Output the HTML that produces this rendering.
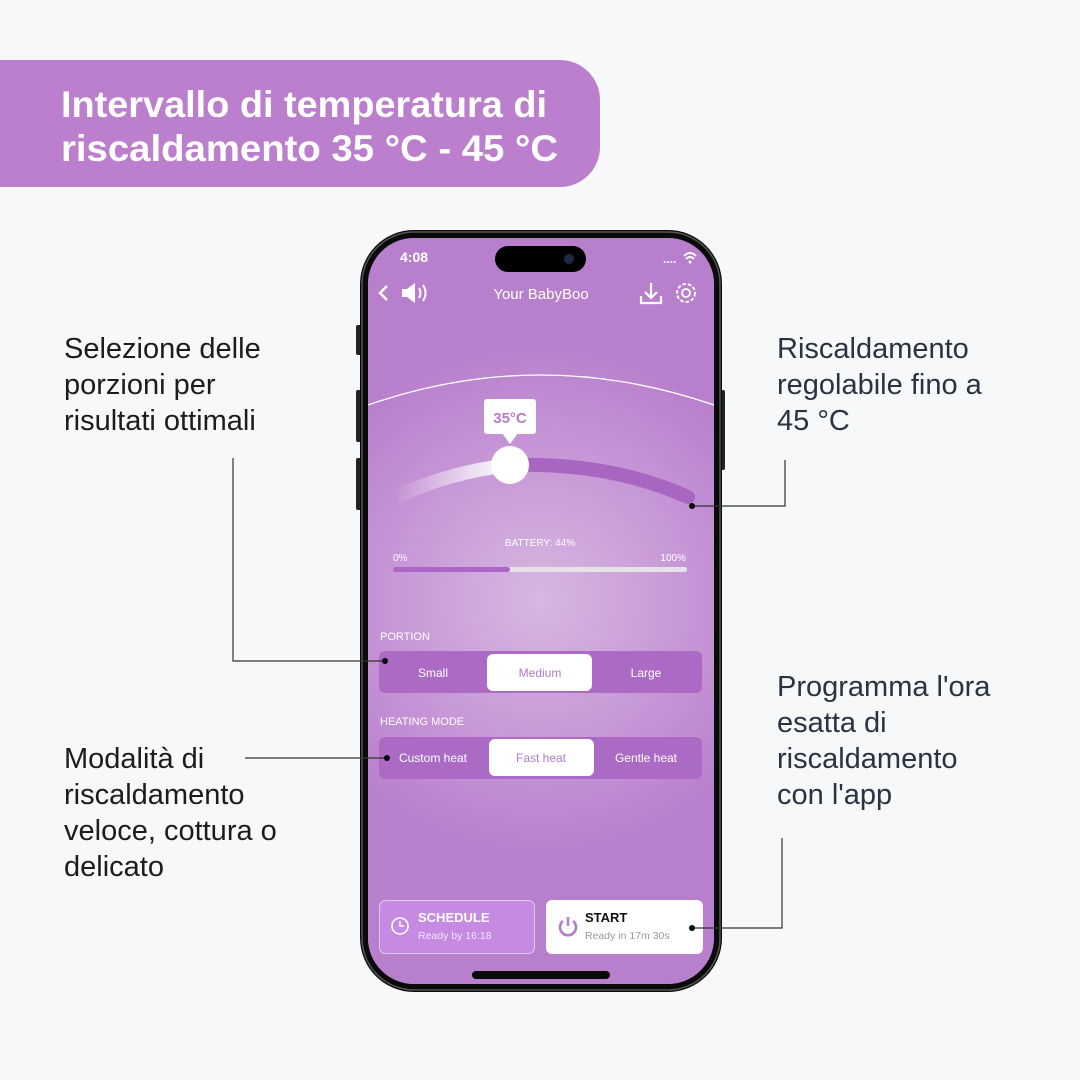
<!DOCTYPE html>
<html><head><meta charset="utf-8"><style>
html,body{margin:0;padding:0;background:#f7f8fa;}
svg{display:block;font-family:"Liberation Sans",sans-serif;}
svg text{font-family:"Liberation Sans",sans-serif;}
</style></head><body>
<svg width="1080" height="1080" viewBox="0 0 1080 1080" xmlns="http://www.w3.org/2000/svg" font-family="Liberation Sans, sans-serif">
<defs>
<radialGradient id="glow" cx="540" cy="600" r="260" gradientUnits="userSpaceOnUse">
<stop offset="0" stop-color="#d6b7e2"/><stop offset="0.6" stop-color="#c695d6"/><stop offset="1" stop-color="#b87fcc"/>
</radialGradient>
<linearGradient id="arcg" x1="395" y1="0" x2="510" y2="0" gradientUnits="userSpaceOnUse">
<stop offset="0" stop-color="#fff" stop-opacity="0"/><stop offset="1" stop-color="#fff" stop-opacity="1"/>
</linearGradient>
<clipPath id="scr"><rect x="368" y="238" width="346" height="746" rx="46"/></clipPath>
</defs>
<rect width="1080" height="1080" fill="#f7f8fa"/>
<path d="M0 60 H560 A40 40 0 0 1 600 100 V147 A40 40 0 0 1 560 187 H0 Z" fill="#bb7fcd"/>
<text x="61" y="117" font-size="37" font-weight="bold" fill="#fff" textLength="486" lengthAdjust="spacingAndGlyphs">Intervallo di temperatura di</text>
<text x="61" y="161" font-size="37" font-weight="bold" fill="#fff" textLength="497" lengthAdjust="spacingAndGlyphs">riscaldamento 35 °C - 45 °C</text>
<rect x="356" y="325" width="6" height="30" rx="2" fill="#222"/>
<rect x="356" y="390" width="6" height="52" rx="2" fill="#222"/>
<rect x="356" y="458" width="6" height="52" rx="2" fill="#222"/>
<rect x="719" y="390" width="6" height="80" rx="2" fill="#222"/>
<rect x="360" y="230" width="362" height="762" rx="54" fill="#0a0a0a"/>
<rect x="362" y="232" width="358" height="758" rx="52" fill="none" stroke="#555" stroke-width="1.5"/>
<g clip-path="url(#scr)">
<rect x="368" y="238" width="346" height="746" fill="#b87fcc"/>
<rect x="368" y="238" width="346" height="746" fill="url(#glow)"/>
<path d="M368 405 Q540 345 714 405" fill="none" stroke="#fff" stroke-width="1.3"/>
</g>
<rect x="495" y="246" width="91" height="26" rx="13" fill="#000"/>
<circle cx="569" cy="259" r="5" fill="#1d2a44"/>
<text x="400" y="262" font-size="14" font-weight="bold" fill="#fff">4:08</text>
<text x="663" y="263" font-size="12" font-weight="bold" fill="#fff">....</text>
<path d="M684 256 Q690 250 696 256 M686 259 Q690 255 694 259" stroke="#fff" stroke-width="1.8" fill="none"/><circle cx="690" cy="262" r="1.5" fill="#fff"/>
<path d="M387 286 L380 293 L387 300" stroke="#fff" stroke-width="2.5" fill="none"/>
<path d="M402 289 H407 L415 283 V303 L407 297 H402 Z" fill="#fff"/>
<path d="M419 288 Q422 293 419 298 M423 285 Q428 293 423 301" stroke="#fff" stroke-width="2" fill="none"/>
<text x="541" y="299" font-size="15" fill="#fff" text-anchor="middle">Your BabyBoo</text>
<path d="M651 283 V298 M645 292 L651 298 L657 292 M641 296 V303 H661 V296" stroke="#fff" stroke-width="2.2" fill="none"/>
<circle cx="686" cy="293" r="4" stroke="#fff" stroke-width="1.8" fill="none"/>
<circle cx="686" cy="293" r="9" stroke="#fff" stroke-width="2" stroke-dasharray="3.5 2" fill="none"/>
<path d="M398 496 Q450 472 510 465" stroke="url(#arcg)" stroke-width="14" fill="none" stroke-linecap="round"/>
<path d="M510 465 Q610 462 688 497" stroke="#a866c3" stroke-width="14" fill="none" stroke-linecap="round"/>
<circle cx="510" cy="465" r="19" fill="#fff"/>
<rect x="484" y="399" width="52" height="35" rx="3" fill="#fff"/>
<path d="M502 433 L510 444 L518 433 Z" fill="#fff"/>
<text x="510" y="423" font-size="15" font-weight="bold" fill="#b57cc8" text-anchor="middle">35°C</text>
<text x="540" y="546" font-size="10" fill="#fff" text-anchor="middle">BATTERY: 44%</text>
<text x="393" y="561" font-size="10" fill="#fff">0%</text>
<text x="686" y="561" font-size="10" fill="#fff" text-anchor="end">100%</text>
<rect x="393" y="567" width="294" height="5" rx="2.5" fill="#e6e2e8"/>
<rect x="393" y="567" width="117" height="5" rx="2.5" fill="#aa68c4"/>
<text x="380" y="640" font-size="11" fill="#fff">PORTION</text>
<rect x="379" y="651" width="323" height="42" rx="6" fill="#ab6ac4"/>
<rect x="487" y="654" width="105" height="37" rx="6" fill="#fff"/>
<text x="433" y="677" font-size="12" fill="#fff" text-anchor="middle">Small</text>
<text x="540" y="677" font-size="12" fill="#b27ac7" text-anchor="middle">Medium</text>
<text x="646" y="677" font-size="12" fill="#fff" text-anchor="middle">Large</text>
<text x="380" y="725" font-size="11" fill="#fff">HEATING MODE</text>
<rect x="379" y="737" width="323" height="42" rx="6" fill="#ab6ac4"/>
<rect x="489" y="739" width="105" height="37" rx="6" fill="#fff"/>
<text x="433" y="762" font-size="12" fill="#fff" text-anchor="middle">Custom heat</text>
<text x="541" y="762" font-size="12" fill="#b27ac7" text-anchor="middle">Fast heat</text>
<text x="646" y="762" font-size="12" fill="#fff" text-anchor="middle">Gentle heat</text>
<rect x="379.5" y="900.5" width="155" height="53" rx="6" fill="#c78ae2" stroke="#e3c7ee"/>
<circle cx="400" cy="926" r="8" stroke="#fff" stroke-width="1.6" fill="none"/>
<path d="M400 921 V926 H404" stroke="#fff" stroke-width="1.5" fill="none"/>
<text x="418" y="922" font-size="13" font-weight="bold" fill="#fff">SCHEDULE</text>
<text x="418" y="939" font-size="10.5" fill="#f3e6f8">Ready by 16:18</text>
<rect x="546" y="900" width="157" height="54" rx="6" fill="#fff"/>
<path d="M563 921 A8 8 0 1 0 573 921" stroke="#b57cc8" stroke-width="2.6" fill="none"/>
<path d="M568 917 V926" stroke="#b57cc8" stroke-width="2.6"/>
<text x="585" y="922" font-size="13" font-weight="bold" fill="#111">START</text>
<text x="585" y="939" font-size="10.5" fill="#999">Ready in 17m 30s</text>
<rect x="472" y="971" width="138" height="8" rx="4" fill="#0a0a0a"/>
<g stroke="#333" stroke-width="1.2" fill="none">
<path d="M233 458 V661 H385"/>
<path d="M245 758 H387"/>
<path d="M785 460 V506 H692"/>
<path d="M782 838 V928 H692"/>
</g>
<g fill="#000"><circle cx="385" cy="661" r="3"/><circle cx="387" cy="758" r="3"/><circle cx="692" cy="506" r="3"/><circle cx="692" cy="928" r="3"/></g>
<g font-size="29" fill="#1c1c1c">
<text x="64" y="358">Selezione delle</text>
<text x="64" y="394">porzioni per</text>
<text x="64" y="430">risultati ottimali</text>
<text x="64" y="768">Modalità di</text>
<text x="64" y="804">riscaldamento</text>
<text x="64" y="840">veloce, cottura o</text>
<text x="64" y="876">delicato</text>
</g>
<g font-size="29" fill="#2a3340">
<text x="777" y="358">Riscaldamento</text>
<text x="777" y="394">regolabile fino a</text>
<text x="777" y="430">45 °C</text>
<text x="777" y="696">Programma l'ora</text>
<text x="777" y="732">esatta di</text>
<text x="777" y="768">riscaldamento</text>
<text x="777" y="804">con l'app</text>
</g>
</svg>
</body></html>
